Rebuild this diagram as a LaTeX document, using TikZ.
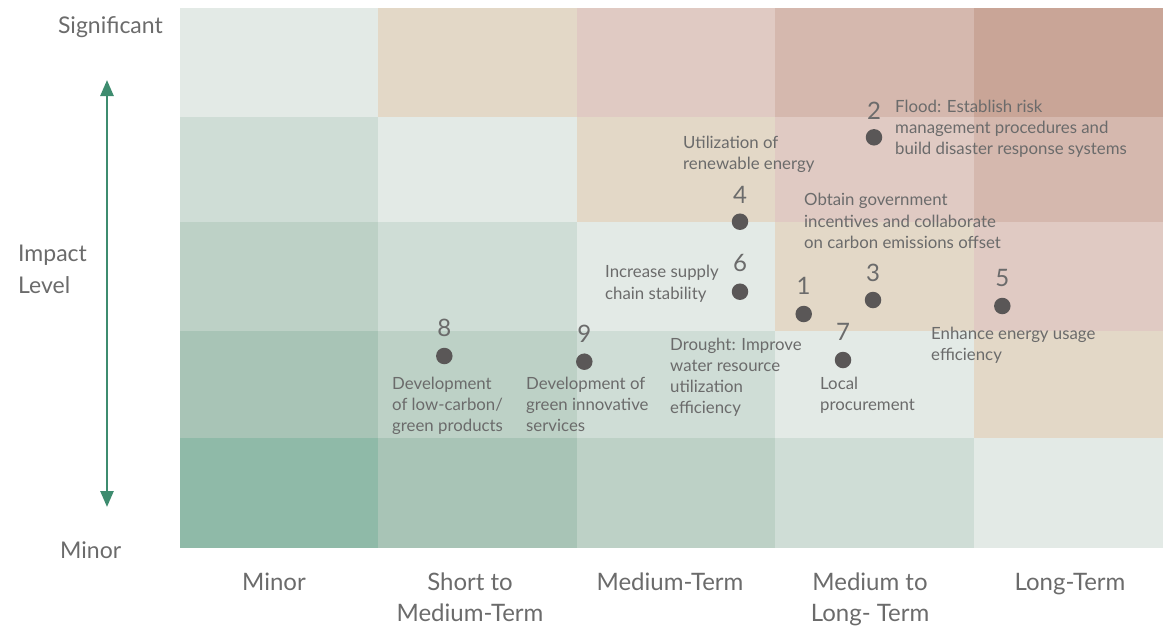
\documentclass[tikz,border=0pt]{standalone}
\usepackage{fontspec}
\setmainfont{Lato}
\usetikzlibrary{arrows.meta}
\definecolor{gA}{HTML}{E3EAE6}
\definecolor{gB}{HTML}{CFDDD6}
\definecolor{gC}{HTML}{BDD1C6}
\definecolor{gD}{HTML}{A8C4B6}
\definecolor{gE}{HTML}{8FBAA8}
\definecolor{bA}{HTML}{E3D8C7}
\definecolor{pA}{HTML}{E0CAC3}
\definecolor{pB}{HTML}{D5B8AE}
\definecolor{pC}{HTML}{C9A597}
\definecolor{txt}{HTML}{6B6B6B}
\definecolor{dotc}{HTML}{5A5757}
\definecolor{arr}{HTML}{3E8C6F}
\tikzset{
  lbl/.style={anchor=base west, inner sep=0pt, align=left, text=txt, font=\fontsize{16.8}{21.3}\selectfont},
  num/.style={anchor=base, inner sep=0pt, text=txt, font=\fontsize{24}{24}\selectfont},
  pt/.style={circle, fill=dotc, minimum size=16.5pt, inner sep=0pt, draw=none},
  yaxis/.style={inner sep=0pt, text=txt, font=\fontsize{23}{32}\selectfont, align=left},
  xaxis/.style={anchor=base, inner sep=0pt, text=txt, font=\fontsize{24}{31}\selectfont, align=center},
}
\begin{document}
\begin{tikzpicture}[x=1pt,y=-1pt]
\useasboundingbox (0,0) rectangle (1163,630);
% row 1
\fill[gA] (180,8) rectangle (378,117);
\fill[bA] (378,8) rectangle (577,117);
\fill[pA] (577,8) rectangle (775,117);
\fill[pB] (775,8) rectangle (974,117);
\fill[pC] (974,8) rectangle (1163,117);
% row 2
\fill[gB] (180,117) rectangle (378,222);
\fill[gA] (378,117) rectangle (577,222);
\fill[bA] (577,117) rectangle (775,222);
\fill[pA] (775,117) rectangle (974,222);
\fill[pB] (974,117) rectangle (1163,222);
% row 3
\fill[gC] (180,222) rectangle (378,331);
\fill[gB] (378,222) rectangle (577,331);
\fill[gA] (577,222) rectangle (775,331);
\fill[bA] (775,222) rectangle (974,331);
\fill[pA] (974,222) rectangle (1163,331);
% row 4
\fill[gD] (180,331) rectangle (378,438);
\fill[gC] (378,331) rectangle (577,438);
\fill[gB] (577,331) rectangle (775,438);
\fill[gA] (775,331) rectangle (974,438);
\fill[bA] (974,331) rectangle (1163,438);
% row 5
\fill[gE] (180,438) rectangle (378,548);
\fill[gD] (378,438) rectangle (577,548);
\fill[gC] (577,438) rectangle (775,548);
\fill[gB] (775,438) rectangle (974,548);
\fill[gA] (974,438) rectangle (1163,548);

% y axis
\node[yaxis, anchor=base east] (sig) at (163,33) {Significant};
\node[yaxis, anchor=base west] (imp) at (18,293) {Impact\\Level};
\node[yaxis, anchor=base west] (ymin) at (60,558) {Minor};
\coordinate (atop) at (107,80);
\coordinate (abot) at (107,507);
\draw[arr, line width=2.6pt, {Triangle[width=13pt,length=16pt]}-{Triangle[width=13pt,length=16pt]}] (atop) -- (abot);

% x axis labels (base = last line)
\node[xaxis] (x1) at (274,590) {Minor};
\node[xaxis] (x2) at (470,621) {Short to\\Medium-Term};
\node[xaxis] (x3) at (670,590) {Medium-Term};
\node[xaxis] (x4) at (870,621) {Medium to\\Long- Term};
\node[xaxis] (x5) at (1070,590) {Long-Term};

% points
\node[pt] (p1) at (803.7,314) {};
\node[pt] (p2) at (874,137.3) {};
\node[pt] (p3) at (873,300) {};
\node[pt] (p4) at (740,221.7) {};
\node[pt] (p5) at (1002.3,306) {};
\node[pt] (p6) at (740,291.7) {};
\node[pt] (p7) at (843,360) {};
\node[pt] (p8) at (444.3,356) {};
\node[pt] (p9) at (584.3,361.7) {};

\node[num] (n1) at (803.7,294.3) {1};
\node[num] (n2) at (874,119) {2};
\node[num] (n3) at (873,281) {3};
\node[num] (n4) at (740,203) {4};
\node[num] (n5) at (1002.3,286.7) {5};
\node[num] (n6) at (740,271.7) {6};
\node[num] (n7) at (843,340) {7};
\node[num] (n8) at (444.3,336.7) {8};
\node[num] (n9) at (584.3,342.7) {9};

% descriptions (base = last line baseline)
\node[lbl] (t2) at (895,154.9) {Flood: Establish risk\\management procedures and\\build disaster response systems};
\node[lbl] (t4) at (683,169.6) {Utilization of\\renewable energy};
\node[lbl] (t3) at (804,248.3) {Obtain government\\incentives and collaborate\\on carbon emissions offset};
\node[lbl] (t6) at (605,299) {Increase supply\\chain stability};
\node[lbl] (t1) at (670,413.9) {Drought: Improve\\water resource\\utilization\\efficiency};
\node[lbl] (t7) at (820,410.6) {Local\\procurement};
\node[lbl] (t5) at (931,360.6) {Enhance energy usage\\efficiency};
\node[lbl] (t8) at (392,431.9) {Development\\of low-carbon/\\green products};
\node[lbl] (t9) at (526,431.9) {Development of\\green innovative\\services};
\end{tikzpicture}
\end{document}
